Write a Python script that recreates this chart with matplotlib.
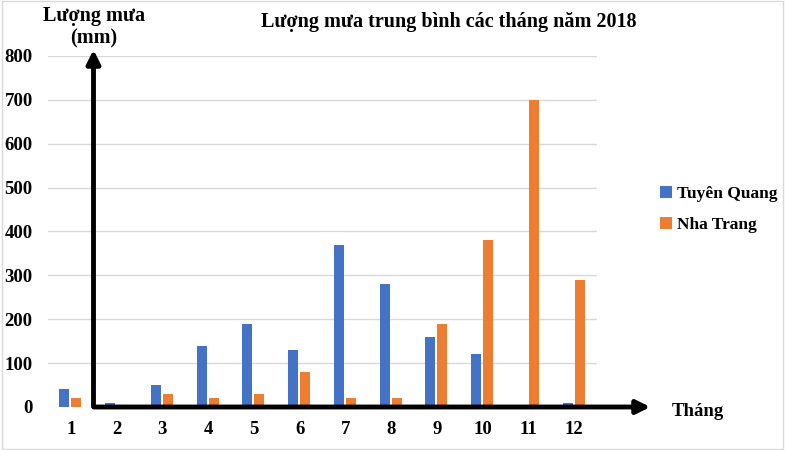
import numpy as np
import matplotlib.pyplot as plt
from matplotlib.patches import Rectangle

months = ['1', '2', '3', '4', '5', '6', '7', '8', '9', '10', '11', '12']
tuyen_quang = [40, 10, 50, 140, 190, 130, 370, 280, 160, 120, 0, 10]
nha_trang = [20, 0, 30, 20, 30, 80, 20, 20, 190, 380, 700, 290]
y_ticks = [0, 100, 200, 300, 400, 500, 600, 700, 800]

plt.rcParams['font.family'] = ['Liberation Serif', 'DejaVu Serif']
plt.rcParams['font.weight'] = 'bold'

fig = plt.figure(figsize=(7.85, 4.5), dpi=100)
ax = fig.add_axes([0.0611, 0.0956, 0.6994, 0.78])

x = np.arange(len(months))
w = 0.22
ax.bar(x - 0.14, tuyen_quang, w, color='#4472C4', label='Tuyên Quang', zorder=2)
ax.bar(x + 0.12, nha_trang, w, color='#ED7D31', label='Nha Trang', zorder=2)

ax.set_xlim(-0.5, len(months) - 0.5)
ax.set_ylim(0, 800)
ax.set_yticks(y_ticks)
ax.set_xticks(x)
ax.set_xticklabels(months)
ax.tick_params(axis='both', length=0, labelsize=13.5)
ax.tick_params(axis='x', pad=10)
ax.tick_params(axis='y', pad=11)
for lbl in ax.get_xticklabels() + ax.get_yticklabels():
    lbl.set_fontweight('bold')
ax.grid(axis='y', color='#d9d9d9', linewidth=1, zorder=0)
for s in ax.spines.values():
    s.set_visible(False)

# chart border and the two arrow shapes drawn over the plot
fig.patches.append(Rectangle((0.003, 0.003), 0.994, 0.994, transform=fig.transFigure,
                             fill=False, edgecolor='#d9d9d9', linewidth=1))
ax.annotate('', xy=(93.5 / 785, 1 - 47 / 450), xytext=(93.5 / 785, 1 - 409 / 450),
            xycoords='figure fraction', textcoords='figure fraction',
            arrowprops=dict(arrowstyle='-|>,head_length=0.8,head_width=0.4', color='black', lw=3.5))
ax.annotate('', xy=(653 / 785, 1 - 407 / 450), xytext=(91 / 785, 1 - 407 / 450),
            xycoords='figure fraction', textcoords='figure fraction',
            arrowprops=dict(arrowstyle='-|>,head_length=0.8,head_width=0.4', color='black', lw=3.5))

fig.text(449 / 785, 1 - 22 / 450, 'Lượng mưa trung bình các tháng năm 2018',
         ha='center', va='center', fontsize=14.5, fontweight='bold')
fig.text(94 / 785, 1 - 27 / 450, 'Lượng mưa\n(mm)', ha='center', va='center',
         fontsize=14.5, fontweight='bold', linespacing=1.15)
fig.text(698 / 785, 1 - 412 / 450, 'Tháng', ha='center', va='center',
         fontsize=13.5, fontweight='bold')

fig.legend(loc='upper left', bbox_to_anchor=(644 / 785, 1 - 170 / 450), frameon=False,
           prop={'size': 12.5, 'weight': 'bold'}, handlelength=0.7, handleheight=0.7,
           handletextpad=0.3, labelspacing=0.85)

fig.savefig('out.png', dpi=100)
